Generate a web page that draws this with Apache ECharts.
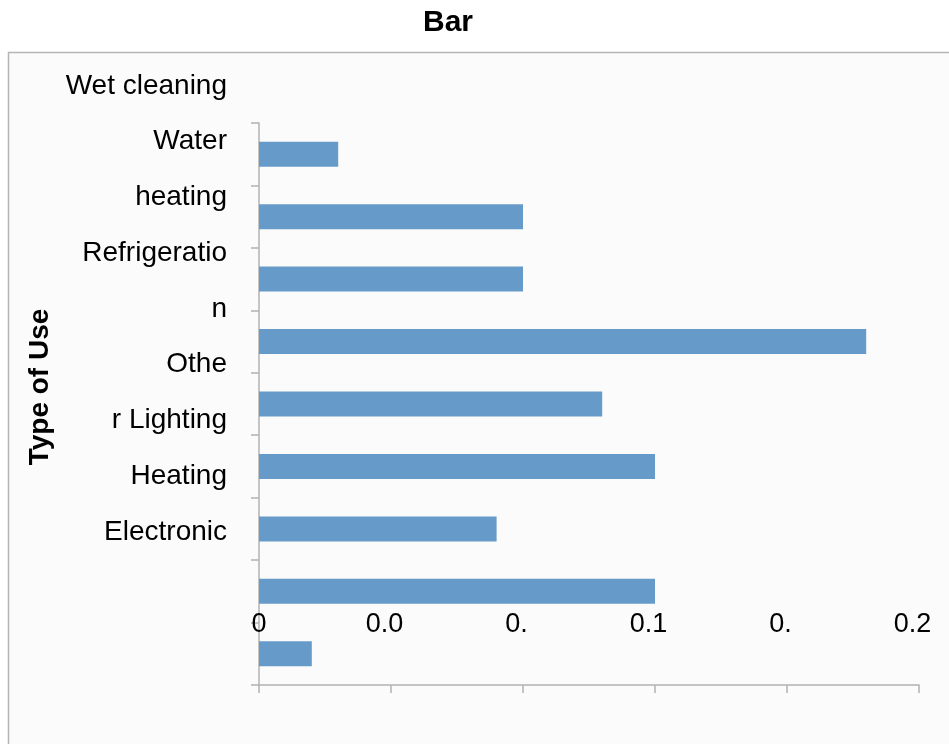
<!DOCTYPE html>
<html>
<head>
<meta charset="utf-8">
<title>Bar</title>
<script src="https://cdn.jsdelivr.net/npm/echarts@6/dist/echarts.min.js"></script>
<style>
  html, body { margin: 0; padding: 0; background: #ffffff; }
  #chart { width: 949px; height: 744px; }
</style>
</head>
<body>
<div id="chart"></div>
<script>
// Category labels as printed beside the axis (wrapped text lines)
const typeLabels = ['Wet cleaning', 'Water', 'heating', 'Refrigeratio', 'n', 'Othe', 'r Lighting', 'Heating', 'Electronic'];
// Bar values, top to bottom
const useValues = [0.024, 0.08, 0.08, 0.184, 0.104, 0.12, 0.072, 0.12, 0.016];
// Value-axis tick labels as printed
const tickLabels = ['0', '0.0', '0.', '0.1', '0.', '0.2'];

const FONT = '"Liberation Sans", Arial, sans-serif';
const AXIS_GRAY = '#b3b3b3';

const chart = echarts.init(document.getElementById('chart'), null, { renderer: 'canvas' });

chart.setOption({
  backgroundColor: '#ffffff',
  animation: false,
  title: {
    text: 'Bar',
    left: 418,
    top: 3,
    textStyle: { fontFamily: FONT, fontSize: 30, fontWeight: 'bold', color: '#000000' }
  },
  graphic: [
    {
      type: 'rect',
      z: -10,
      shape: { x: 8.5, y: 52.5, width: 1000, height: 1000 },
      style: { fill: '#fbfbfb', stroke: '#b5b5b5', lineWidth: 1.5 }
    },
    {
      type: 'text',
      z: 10,
      x: 40,
      y: 387,
      rotation: Math.PI / 2,
      style: {
        text: 'Type of Use',
        fontFamily: FONT,
        fontSize: 28,
        fontWeight: 'bold',
        fill: '#000000',
        align: 'center',
        verticalAlign: 'middle'
      }
    }
  ],
  grid: [
    { left: 259, right: 30, top: 123, bottom: 59 },
    { left: 259, right: 30, top: 58, bottom: 184 }
  ],
  xAxis: [
    {
      gridIndex: 0,
      type: 'value',
      min: 0,
      max: 0.2,
      interval: 0.04,
      splitLine: { show: false },
      axisLine: { show: true, lineStyle: { color: AXIS_GRAY, width: 1.5 } },
      axisTick: { show: true, length: 8, lineStyle: { color: AXIS_GRAY, width: 1.5 } },
      axisLabel: {
        margin: -74,
        color: '#000000',
        fontFamily: FONT,
        fontSize: 27,
        formatter: function (value, index) {
          const t = tickLabels[index];
          return index === 0 ? '{z|' + t + '}' : '{s|' + t + '}';
        },
        rich: {
          z: { fontFamily: FONT, fontSize: 27, color: '#000000' },
          s: { fontFamily: FONT, fontSize: 27, color: '#000000', padding: [0, 13, 0, 0] }
        }
      }
    },
    {
      gridIndex: 1,
      type: 'value',
      show: false
    }
  ],
  yAxis: [
    {
      gridIndex: 0,
      type: 'category',
      inverse: true,
      data: typeLabels,
      axisLine: { show: true, lineStyle: { color: AXIS_GRAY, width: 1.5 } },
      axisTick: { show: true, length: 8, lineStyle: { color: AXIS_GRAY, width: 1.5 } },
      axisLabel: { show: false }
    },
    {
      gridIndex: 1,
      type: 'category',
      inverse: true,
      data: typeLabels,
      axisLine: { show: false },
      axisTick: { show: false },
      axisLabel: {
        margin: 32,
        color: '#000000',
        fontFamily: FONT,
        fontSize: 28
      }
    }
  ],
  series: [
    {
      type: 'bar',
      xAxisIndex: 0,
      yAxisIndex: 0,
      data: useValues,
      barWidth: '40%',
      itemStyle: { color: '#669bc9' }
    }
  ]
});
</script>
</body>
</html>
